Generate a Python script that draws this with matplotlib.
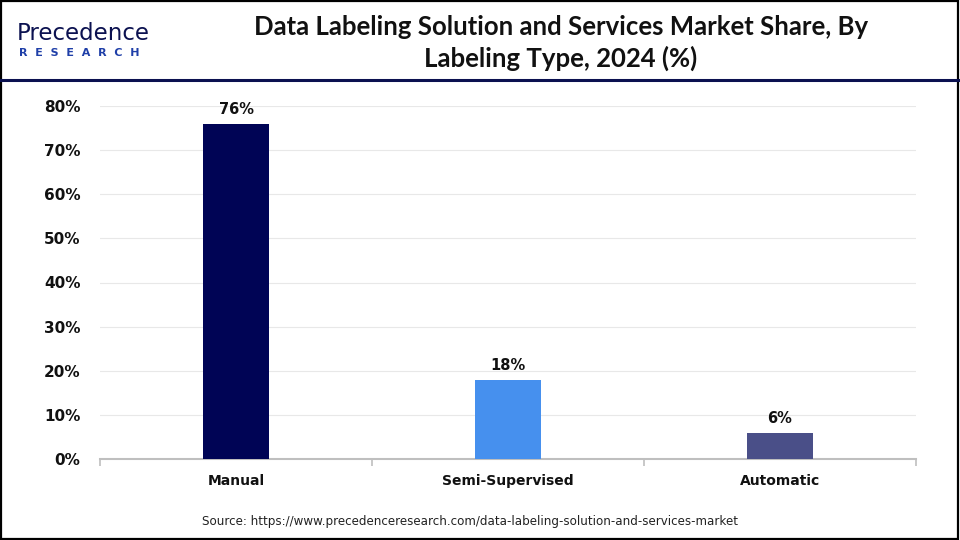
import matplotlib
matplotlib.use("Agg")
import matplotlib.pyplot as plt
from matplotlib.lines import Line2D
from matplotlib.patches import Rectangle

categories = ["Manual", "Semi-Supervised", "Automatic"]
values = [76, 18, 6]
bar_colors = ["#000455", "#4690EE", "#4A4F88"]
yticks = [0, 10, 20, 30, 40, 50, 60, 70, 80]
ytick_labels = [f"{v}%" for v in yticks]

title = "Data Labeling Solution and Services Market Share, By\nLabeling Type, 2024 (%)"
source = "Source: https://www.precedenceresearch.com/data-labeling-solution-and-services-market"

fig = plt.figure(figsize=(9.6, 5.4), dpi=100)
fig.patch.set_facecolor("white")

# border
fig.add_artist(Rectangle((0.001, 0.002), 0.997, 0.996, transform=fig.transFigure,
                         fill=False, edgecolor="black", linewidth=1.6))
# header line
fig.add_artist(Line2D([0.0, 1.0], [1 - 80 / 540, 1 - 80 / 540], transform=fig.transFigure,
                      color="#0B1150", linewidth=2.2))

# logo
fig.text(17 / 960, 1 - 34 / 540, "Precedence", fontsize=16.5, color="#0B1150",
         family="DejaVu Sans", va="center", ha="left")
fig.text(19 / 960, 1 - 53 / 540, "R  E  S  E  A  R  C  H", fontsize=8, color="#1F3FA8",
         family="DejaVu Sans", fontweight="bold", va="center", ha="left")

# title
fig.text(561 / 960, 1 - 43 / 540, title, fontsize=18.5, fontweight="bold", family="Lato",
         ha="center", va="center", linespacing=1.35, color="#111111")

ax = fig.add_axes([100 / 960, 1 - 459 / 540, 816 / 960, (459 - 106) / 540])
x = list(range(len(categories)))
bars = ax.bar(x, values, width=0.246, color=bar_colors, zorder=3)
for xi, v in zip(x, values):
    ax.annotate(f"{v}%", (xi, v), xytext=(0, 5), textcoords="offset points",
                ha="center", va="bottom", fontsize=10.5, fontweight="bold", color="#111111")

ax.set_xlim(-0.5, 2.5)
ax.set_ylim(0, 80)
ax.set_yticks(yticks)
ax.set_yticklabels(ytick_labels, fontsize=11, fontweight="bold", color="#111111")
ax.yaxis.grid(True, color="#E8E8E8", linewidth=0.8, zorder=0)
ax.tick_params(axis="y", length=0, pad=14)

ax.set_xticks([-0.5, 0.5, 1.5, 2.5])
ax.set_xticklabels([])
ax.set_xticks(x, minor=True)
ax.set_xticklabels(categories, minor=True, fontsize=10, fontweight="bold", color="#111111",
                   va="baseline")
ax.tick_params(axis="x", which="major", length=5, color="#BFBFBF", width=1.2)
ax.tick_params(axis="x", which="minor", length=0, pad=18.5)

for s in ["top", "right", "left"]:
    ax.spines[s].set_visible(False)
ax.spines["bottom"].set_color("#BFBFBF")
ax.spines["bottom"].set_linewidth(1.5)

fig.text(470 / 960, 1 - 521 / 540, source, fontsize=8.55, ha="center", va="center", color="#222222")

fig.savefig("out.png", dpi=100)
